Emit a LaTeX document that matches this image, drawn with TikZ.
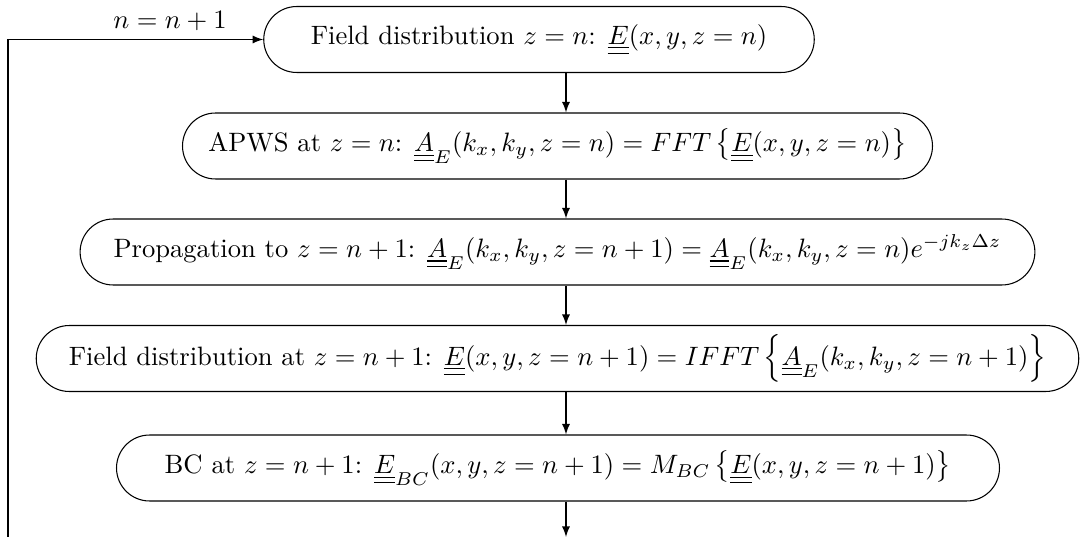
\documentclass[tikz,border=0pt]{standalone}
\usetikzlibrary{shapes.misc,arrows}
\newcommand{\uu}[1]{\underline{\underline{#1}}}
\begin{document}
\begin{tikzpicture}[x=0.376pt,y=-0.376pt,
  stepbox/.style={draw,rounded rectangle,minimum height=24.8pt,inner xsep=4pt,inner ysep=2pt},
  flow/.style={-latex,line width=0.4pt}]
\useasboundingbox (0,0) rectangle (1086,537);
\node[stepbox,minimum width=215pt] (b1) at (539,39.5) {Field distribution $z=n$: $\uu{E}(x,y,z=n)$};
\node[stepbox,minimum width=290pt] (b2) at (557.5,146) {APWS at $z=n$: $\uu{A}_E(k_x,k_y,z=n) = FFT\left\{\uu{E}(x,y,z=n)\right\}$};
\node[stepbox,minimum width=367pt] (b3) at (557.5,252) {Propagation to $z=n+1$: $\uu{A}_E(k_x,k_y,z=n+1) = \uu{A}_E(k_x,k_y,z=n)e^{-jk_z\Delta z}$};
\node[stepbox,minimum width=400pt] (b4) at (557.5,358.5) {Field distribution at $z=n+1$: $\uu{E}(x,y,z=n+1) = IFFT\left\{\uu{A}_E(k_x,k_y,z=n+1)\right\}$};
\node[stepbox,minimum width=340pt] (b5) at (558,468) {BC at $z=n+1$: $\uu{E}_{BC}(x,y,z=n+1) = M_{BC}\left\{\uu{E}(x,y,z=n+1)\right\}$};
\coordinate (ax) at (566,0);
\coordinate (bend) at (566,537);
\coordinate (lstart) at (8,545);
\draw[flow] (b1.south -| ax) -- (b2.north -| ax);
\draw[flow] (b2.south -| ax) -- (b3.north -| ax);
\draw[flow] (b3.south -| ax) -- (b4.north -| ax);
\draw[flow] (b4.south -| ax) -- (b5.north -| ax);
\draw[flow] (b5.south -| ax) -- (bend);
\draw[flow] (lstart) |- (b1.west);
\node (lbl) at (170,21) {$n=n+1$};
\end{tikzpicture}
\end{document}
